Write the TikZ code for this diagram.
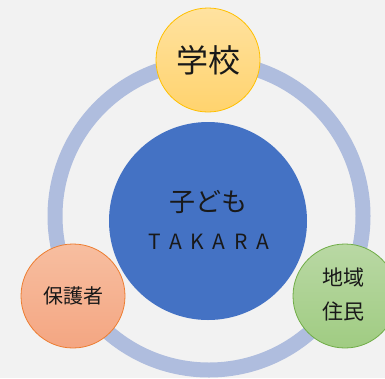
\documentclass[tikz,border=0pt]{standalone}
\usepackage{fontspec}
\newfontfamily\jp{Noto Sans CJK JP}
\newfontfamily\jpsp[LetterSpace=42]{Noto Sans CJK JP}
\begin{document}
\begin{tikzpicture}[x=1pt,y=-1pt,
  small/.style={circle,minimum size=104pt,inner sep=0pt,line width=0.8pt},
  lbl/.style={text=black!90,font=\jp,align=center}]
\useasboundingbox (0,0) rectangle (385,378);
\fill[black!5] (0,0) rectangle (385,378);
\coordinate (c) at (209,216);
\draw[line width=15pt,color={rgb,255:red,175;green,189;blue,222}] (c) circle[radius=154pt];
\node[circle,minimum size=198pt,inner sep=0pt,fill={rgb,255:red,68;green,114;blue,196}] (kodomo) at (208,221) {};
\node[lbl,font=\jp\fontsize{26}{30}\selectfont] (t1) at (208,202) {子ども};
\node[lbl,font=\jpsp\fontsize{21}{24}\selectfont] (t2) at (209,242) {TAKARA};
\node[small,draw={rgb,255:red,255;green,192;blue,0},top color={rgb,255:red,255;green,226;blue,160},bottom color={rgb,255:red,255;green,211;blue,110}] (gakko) at (208,60) {};
\node[lbl,font=\jp\fontsize{32}{36}\selectfont] at (gakko) {学校};
\node[small,draw={rgb,255:red,237;green,125;blue,49},top color={rgb,255:red,247;green,190;blue,160},bottom color={rgb,255:red,244;green,166;blue,130}] (hogo) at (73,296) {};
\node[lbl,font=\jp\fontsize{20}{24}\selectfont] at (hogo) {保護者};
\node[small,draw={rgb,255:red,112;green,173;blue,71},top color={rgb,255:red,185;green,216;blue,164},bottom color={rgb,255:red,160;green,204;blue,130}] (chiiki) at (345,296) {};
\node[lbl,font=\jp\fontsize{21}{34}\selectfont] at (343,295) {地域\\住民};
\end{tikzpicture}
\end{document}
